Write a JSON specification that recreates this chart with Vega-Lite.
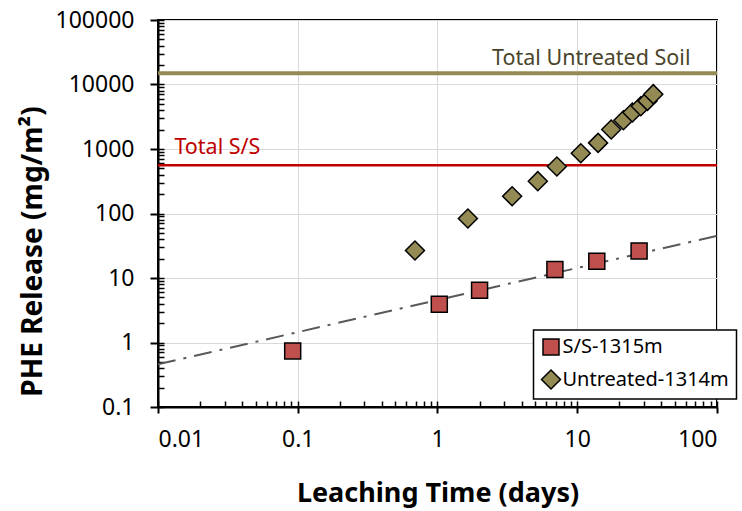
{
  "$schema": "https://vega.github.io/schema/vega-lite/v6.json",
  "width": 559,
  "height": 387,
  "autosize": {"type": "none"},
  "padding": {"left": 158, "top": 20, "right": 25, "bottom": 104},
  "config": {
    "view": {"stroke": "black", "strokeWidth": 2},
    "font": "Noto Sans",
    "axis": {
      "domainColor": "black",
      "domainWidth": 2,
      "tickColor": "black",
      "tickWidth": 2,
      "gridColor": "#D9D9D9",
      "gridWidth": 1,
      "labelFont": "Noto Sans",
      "labelFontSize": 23,
      "labelColor": "black",
      "titleFont": "Noto Sans",
      "titleFontSize": 27,
      "titleFontWeight": "bold",
      "titleColor": "black"
    },
    "legend": {
      "labelFont": "Noto Sans",
      "labelFontSize": 20,
      "labelColor": "black",
      "labelLimit": 400,
      "fillColor": "white",
      "strokeColor": "black",
      "strokeWidth": 1.5,
      "padding": 7,
      "rowPadding": 9,
      "symbolSize": 170,
      "symbolStrokeColor": "black",
      "symbolStrokeWidth": 1.5,
      "labelOffset": 1
    }
  },
  "datasets": {
    "leach": [
      {"series": "S/S-1315m", "days": 0.092, "release": 0.74},
      {"series": "S/S-1315m", "days": 1.03, "release": 3.93},
      {"series": "S/S-1315m", "days": 2.0, "release": 6.47},
      {"series": "S/S-1315m", "days": 6.92, "release": 13.5},
      {"series": "S/S-1315m", "days": 13.8, "release": 18.2},
      {"series": "S/S-1315m", "days": 27.7, "release": 26.3},
      {"series": "Untreated-1314m", "days": 0.69, "release": 26.7},
      {"series": "Untreated-1314m", "days": 1.65, "release": 83.6},
      {"series": "Untreated-1314m", "days": 3.42, "release": 185},
      {"series": "Untreated-1314m", "days": 5.22, "release": 317},
      {"series": "Untreated-1314m", "days": 7.15, "release": 535},
      {"series": "Untreated-1314m", "days": 10.6, "release": 861},
      {"series": "Untreated-1314m", "days": 14.1, "release": 1244},
      {"series": "Untreated-1314m", "days": 17.5, "release": 2005},
      {"series": "Untreated-1314m", "days": 21.4, "release": 2797},
      {"series": "Untreated-1314m", "days": 24.8, "release": 3681},
      {"series": "Untreated-1314m", "days": 28.5, "release": 4610},
      {"series": "Untreated-1314m", "days": 31.8, "release": 5570},
      {"series": "Untreated-1314m", "days": 35, "release": 7080}
    ],
    "trend": [
      {"days": 0.01, "release": 0.46},
      {"days": 100, "release": 45}
    ],
    "totals": [
      {"label": "Total Untreated Soil", "release": 15000},
      {"label": "Total S/S", "release": 560}
    ]
  },
  "layer": [
    {
      "data": {"name": "totals"},
      "transform": [{"filter": "datum.label === 'Total Untreated Soil'"}],
      "mark": {"type": "rule", "color": "#948A54", "strokeWidth": 4},
      "encoding": {
        "y": {"field": "release", "type": "quantitative", "axis": null}
      }
    },
    {
      "data": {"name": "totals"},
      "transform": [{"filter": "datum.label === 'Total S/S'"}],
      "mark": {"type": "rule", "color": "#C00000", "strokeWidth": 2.5},
      "encoding": {
        "y": {"field": "release", "type": "quantitative", "axis": null}
      }
    },
    {
      "data": {"name": "trend"},
      "mark": {"type": "line", "color": "#595959", "strokeWidth": 2, "strokeDash": [18, 8, 3, 8]},
      "encoding": {
        "x": {
          "field": "days", "type": "quantitative",
          "axis": {
            "orient": "bottom",
            "values": [0.01, 0.02, 0.03, 0.04, 0.05, 0.06, 0.07, 0.08, 0.09, 0.1, 0.2, 0.3, 0.4, 0.5, 0.6, 0.7, 0.8, 0.9, 1, 2, 3, 4, 5, 6, 7, 8, 9, 10, 20, 30, 40, 50, 60, 70, 80, 90, 100],
            "labels": false, "domain": false, "grid": false,
            "tickSize": -6, "tickWidth": 1.5, "title": null
          }
        },
        "y": {
          "field": "release", "type": "quantitative",
          "axis": {
            "orient": "left",
            "values": [0.1, 0.2, 0.3, 0.4, 0.5, 0.6, 0.7, 0.8, 0.9, 1, 2, 3, 4, 5, 6, 7, 8, 9, 10, 20, 30, 40, 50, 60, 70, 80, 90, 100, 200, 300, 400, 500, 600, 700, 800, 900, 1000, 2000, 3000, 4000, 5000, 6000, 7000, 8000, 9000, 10000, 20000, 30000, 40000, 50000, 60000, 70000, 80000, 90000, 100000],
            "labels": false, "domain": false, "grid": false,
            "tickSize": -6, "tickWidth": 1.5, "title": null
          }
        }
      }
    },
    {
      "data": {"name": "leach"},
      "mark": {"type": "point", "filled": true, "opacity": 1, "stroke": "black", "strokeWidth": 1.5},
      "encoding": {
        "x": {
          "field": "days", "type": "quantitative",
          "scale": {"type": "log", "domain": [0.01, 100], "nice": false},
          "axis": {
            "orient": "bottom",
            "title": "Leaching Time (days)",
            "values": [0.01, 0.1, 1, 10, 100],
            "format": "~g",
            "grid": true,
            "tickSize": 6,
            "labelPadding": 15,
            "titleY": 86,
            "titleBaseline": "middle"
          }
        },
        "y": {
          "field": "release", "type": "quantitative",
          "scale": {"type": "log", "domain": [0.1, 100000], "nice": false},
          "axis": {
            "orient": "left",
            "title": "PHE Release (mg/m²)",
            "titleFontSize": 28,
            "values": [0.1, 1, 10, 100, 1000, 10000, 100000],
            "format": "~g",
            "grid": true,
            "tickSize": 8,
            "labelPadding": 16,
            "titleX": -125,
            "titleY": 231,
            "titleAngle": -90,
            "titleAlign": "center",
            "titleBaseline": "middle"
          }
        },
        "color": {
          "field": "series", "type": "nominal",
          "scale": {"domain": ["S/S-1315m", "Untreated-1314m"], "range": ["#C0504D", "#948A54"]},
          "legend": {"title": null, "orient": "none", "legendX": 375.5, "legendY": 310}
        },
        "shape": {
          "field": "series", "type": "nominal",
          "scale": {"domain": ["S/S-1315m", "Untreated-1314m"], "range": ["square", "diamond"]},
          "legend": {"title": null, "orient": "none", "legendX": 375.5, "legendY": 310}
        },
        "size": {
          "field": "series", "type": "nominal",
          "scale": {"domain": ["S/S-1315m", "Untreated-1314m"], "range": [256, 361]},
          "legend": null
        }
      }
    },
    {
      "data": {"name": "totals"},
      "transform": [{"filter": "datum.label === 'Total Untreated Soil'"}],
      "mark": {"type": "text", "align": "right", "baseline": "alphabetic", "dy": -8, "font": "Noto Sans", "fontSize": 21.5, "color": "#4A452A"},
      "encoding": {
        "x": {"datum": 64.6, "type": "quantitative", "axis": null},
        "y": {"field": "release", "type": "quantitative", "axis": null},
        "text": {"field": "label"}
      }
    },
    {
      "data": {"name": "totals"},
      "transform": [{"filter": "datum.label === 'Total S/S'"}],
      "mark": {"type": "text", "align": "left", "baseline": "alphabetic", "dy": -11, "font": "Noto Sans", "fontSize": 21.5, "color": "#C00000"},
      "encoding": {
        "x": {"datum": 0.0131, "type": "quantitative", "axis": null},
        "y": {"field": "release", "type": "quantitative", "axis": null},
        "text": {"field": "label"}
      }
    }
  ],
  "resolve": {"axis": {"x": "independent", "y": "independent"}}
}
